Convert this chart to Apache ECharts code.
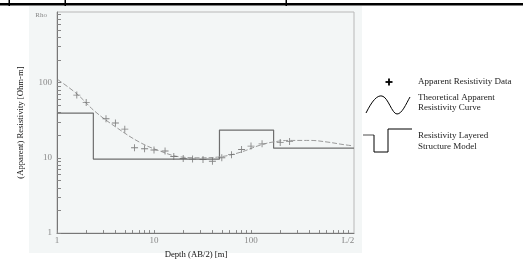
<!DOCTYPE html>
<html>
<head>
<meta charset="utf-8">
<script src="https://cdn.jsdelivr.net/npm/echarts@6/dist/echarts.min.js"></script>
<style>html,body{margin:0;padding:0;background:#fff;}#c{width:523px;height:264px;}</style>
</head>
<body>
<div id="c"></div>
<script>
// ---- data ----
const depthData = [1.6, 2, 3.2, 4, 5, 6.3, 8, 10, 13, 16, 20, 25, 32, 40, 50, 63, 80, 100, 130, 200, 250];
const rhoData   = [68, 54, 33, 29, 24, 13.6, 13.2, 12.7, 12.3, 10.4, 9.8, 9.6, 9.5, 9.0, 10.0, 11.0, 12.9, 14.3, 15.3, 16.0, 16.5];

const curveDepth = [1.02, 1.61, 2.46, 4.15, 7.17, 11.5, 18.5, 29.8, 47.9, 77, 124, 169, 252, 406, 608, 888, 1127];
const curveRho   = [109, 70.2, 41.3, 25.0, 16.0, 12.3, 10.3, 10.0, 10.3, 11.8, 14.7, 16.2, 17.0, 17.0, 16.2, 15.0, 14.4];

const layerBottoms = [2.37, 47.3, 171];
const layerRho     = [39.2, 9.6, 23.3, 13.4];

const xMin = 1, xMax = 1153;
const yMin = 1, yMax = 862;
const xLabelValues = [1, 10, 100, 1000];
const xLabelTexts  = ['1', '10', '100', 'L/2'];
const yLabelValues = [1, 10, 100];
const xTickValues = [1,2,3,4,5,6,7,8,9,10,20,30,40,50,60,70,80,90,100,200,300,400,500,600,700,800,900,1000];
const yTickValues = [1,2,3,4,5,6,7,8,9,10,20,30,40,50,60,70,80,90,100,200,300,400,500,600,700,800];

// ---- build series data ----
const dataPts = depthData.map((d, i) => [d, rhoData[i]]);
const curvePts = curveDepth.map((d, i) => [d, curveRho[i]]);
const modelPts = [];
let start = xMin;
layerRho.forEach((r, i) => {
  const end = i < layerBottoms.length ? layerBottoms[i] : xMax;
  modelPts.push([start, r]);
  modelPts.push([end, r]);
  start = end;
});

const serif = '"Liberation Serif", "DejaVu Serif", serif';
const plusPath = 'path://M3.5,0H4.5V3.5H8V4.5H4.5V8H3.5V4.5H0V3.5H3.5Z';

const chart = echarts.init(document.getElementById('c'), null, {renderer: 'canvas'});
chart.setOption({
  animation: false,
  backgroundColor: '#ffffff',
  grid: {
    left: 57, right: 169, top: 12, bottom: 23,
    show: true, borderColor: '#b8b8b8', borderWidth: 1, backgroundColor: 'transparent'
  },
  xAxis: {
    type: 'log', logBase: 10, min: xMin, max: xMax,
    name: 'Depth (AB/2) [m]', nameLocation: 'middle', nameGap: 11,
    nameTextStyle: {fontFamily: serif, fontSize: 8.7, color: '#111', padding: [0, 19, 0, 0]},
    axisLine: {show: true, lineStyle: {color: '#777', width: 1}},
    axisTick: {show: true, inside: true, length: 3, customValues: xTickValues, lineStyle: {color: '#888'}},
    axisLabel: {
      customValues: xLabelValues, margin: 3,
      fontFamily: serif, fontSize: 9, color: '#888',
      formatter: function (v) { const i = xLabelValues.indexOf(v); return i >= 0 ? xLabelTexts[i] : ''; }
    },
    splitLine: {show: false}, minorTick: {show: false}
  },
  yAxis: {
    type: 'log', logBase: 10, min: yMin, max: yMax,
    name: '(Apparent) Resistivity [Ohm-m]', nameLocation: 'middle', nameGap: 32,
    nameTextStyle: {fontFamily: serif, fontSize: 8.7, color: '#111'},
    axisLine: {show: true, lineStyle: {color: '#777', width: 1}},
    axisTick: {show: true, inside: true, length: 4, customValues: yTickValues, lineStyle: {color: '#888'}},
    axisLabel: {
      customValues: yLabelValues, margin: 5,
      fontFamily: serif, fontSize: 9, color: '#888',
      formatter: function (v) { return String(v); }
    },
    splitLine: {show: false}
  },
  graphic: [
    {type: 'rect', z: -10, silent: true, shape: {x: 29, y: 6, width: 333, height: 247}, style: {fill: '#f3f6f6'}},
    {type: 'rect', z: 10, shape: {x: 0, y: 3, width: 523, height: 2.5}, style: {fill: '#000'}},
    {type: 'rect', z: 10, shape: {x: 8.5, y: 0, width: 1.5, height: 6}, style: {fill: '#000'}},
    {type: 'rect', z: 10, shape: {x: 64.5, y: 0, width: 1.5, height: 6}, style: {fill: '#000'}},
    {type: 'rect', z: 10, shape: {x: 285.5, y: 0, width: 1.5, height: 6}, style: {fill: '#000'}},
    {type: 'text', z: 10, x: 47, y: 15, style: {text: 'Rho', fontFamily: serif, fontSize: 7, fill: '#888', align: 'right', verticalAlign: 'middle'}},
    // legend: data marker
    {type: 'line', z: 10, shape: {x1: 389, y1: 78.5, x2: 389, y2: 85.5}, style: {stroke: '#000', lineWidth: 1.8}},
    {type: 'line', z: 10, shape: {x1: 385.5, y1: 82, x2: 392.5, y2: 82}, style: {stroke: '#000', lineWidth: 1.8}},
    {type: 'text', z: 10, x: 418, y: 82, style: {text: 'Apparent Resistivity Data', fontFamily: serif, fontSize: 9, fill: '#222', verticalAlign: 'middle'}},
    // legend: curve
    {type: 'bezierCurve', z: 10, shape: {x1: 366, y1: 113, cpx1: 372, cpy1: 101, cpx2: 377, cpy2: 95, x2: 382, y2: 96}, style: {stroke: '#000', lineWidth: 1, fill: null}},
    {type: 'bezierCurve', z: 10, shape: {x1: 382, y1: 96, cpx1: 388, cpy1: 97, cpx2: 392, cpy2: 114, x2: 397, y2: 114}, style: {stroke: '#000', lineWidth: 1, fill: null}},
    {type: 'bezierCurve', z: 10, shape: {x1: 397, y1: 114, cpx1: 402, cpy1: 114, cpx2: 406, cpy2: 104, x2: 410, y2: 97}, style: {stroke: '#000', lineWidth: 1, fill: null}},
    {type: 'text', z: 10, x: 418, y: 98, style: {text: 'Theoretical Apparent', fontFamily: serif, fontSize: 9, fill: '#222', verticalAlign: 'middle'}},
    {type: 'text', z: 10, x: 418, y: 108, style: {text: 'Resistivity Curve', fontFamily: serif, fontSize: 9, fill: '#222', verticalAlign: 'middle'}},
    // legend: layered model
    {type: 'line', z: 10, shape: {x1: 363, y1: 135, x2: 374, y2: 135}, style: {stroke: '#888', lineWidth: 1.5}},
    {type: 'polyline', z: 10, shape: {points: [[374, 135], [374, 152], [388, 152], [388, 129], [412, 129]]}, style: {stroke: '#000', lineWidth: 1, fill: null}},
    {type: 'text', z: 10, x: 418, y: 136, style: {text: 'Resistivity Layered', fontFamily: serif, fontSize: 9, fill: '#222', verticalAlign: 'middle'}},
    {type: 'text', z: 10, x: 418, y: 147, style: {text: 'Structure Model', fontFamily: serif, fontSize: 9, fill: '#222', verticalAlign: 'middle'}}
  ],
  series: [
    {
      name: 'Resistivity Layered Structure Model', type: 'line', data: modelPts,
      showSymbol: false, symbol: 'none', lineStyle: {color: '#6e6e6e', width: 1.2}, z: 2
    },
    {
      name: 'Theoretical Apparent Resistivity Curve', type: 'line', data: curvePts,
      smooth: 0.4, showSymbol: false, symbol: 'none',
      lineStyle: {color: '#9a9a9a', width: 1, type: [5, 2]}, z: 3
    },
    {
      name: 'Apparent Resistivity Data', type: 'scatter', data: dataPts,
      symbol: plusPath, symbolSize: 7, itemStyle: {color: '#666'}, z: 4
    }
  ]
});
</script>
</body>
</html>
